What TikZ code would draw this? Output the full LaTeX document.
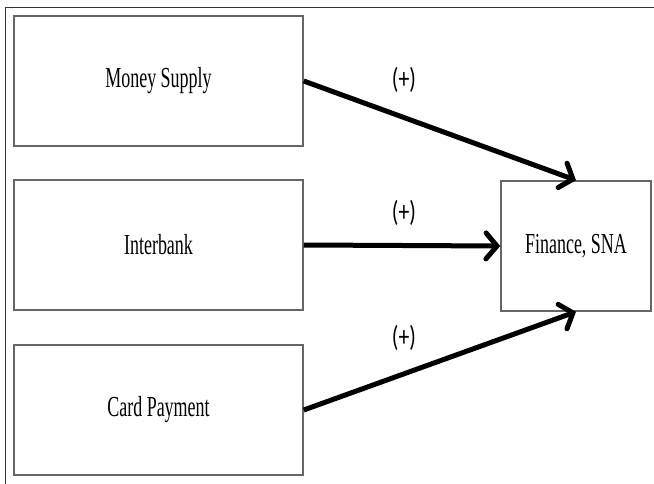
\documentclass[tikz,border=0pt]{standalone}
\usepackage{fontspec}
\setmainfont[FakeStretch=0.62]{Liberation Serif}
\newfontfamily\plusfont[FakeStretch=0.75]{Carlito}
\usetikzlibrary{arrows.meta}

\tikzset{
    varbox/.style={draw=gray!80!black, line width=1.5pt, minimum width=289pt, minimum height=130pt,
        inner sep=0pt, font=\fontsize{29}{32}\selectfont},
    effect/.style={line width=5pt, -{Straight Barb[length=11pt, width=26pt, line cap=round]}},
    sign/.style={font=\plusfont\fontsize{29}{32}\selectfont, inner sep=0pt}
}

\begin{document}
\begin{tikzpicture}[x=1pt, y=-1pt] % 1pt = 1px
        \useasboundingbox (0,0) rectangle (654,484);
        % outer frame
        \draw[line width=1pt, black!80] (5,484) -- (5,8) -- (654,8);
        % causes
        \node[varbox] (money) at (158.5,81) {Money Supply};
        \node[varbox] (inter) at (158.5,245) {Interbank};
        \node[varbox] (card) at (158.5,410) {Card Payment};
        % outcome
        \node[varbox, minimum width=150pt] (fin) at (576,246) {Finance, SNA};
        % effects
        \draw[effect] (money.east) -- (fin.north);
        \draw[effect] (inter.east) -- (fin.west);
        \draw[effect] (card.east) -- (fin.south);
        \node[sign] (s1) at (404,80) {(+)};
        \node[sign] (s2) at (404,213) {(+)};
        \node[sign] (s3) at (404,338) {(+)};
    \end{tikzpicture}
\end{document}
